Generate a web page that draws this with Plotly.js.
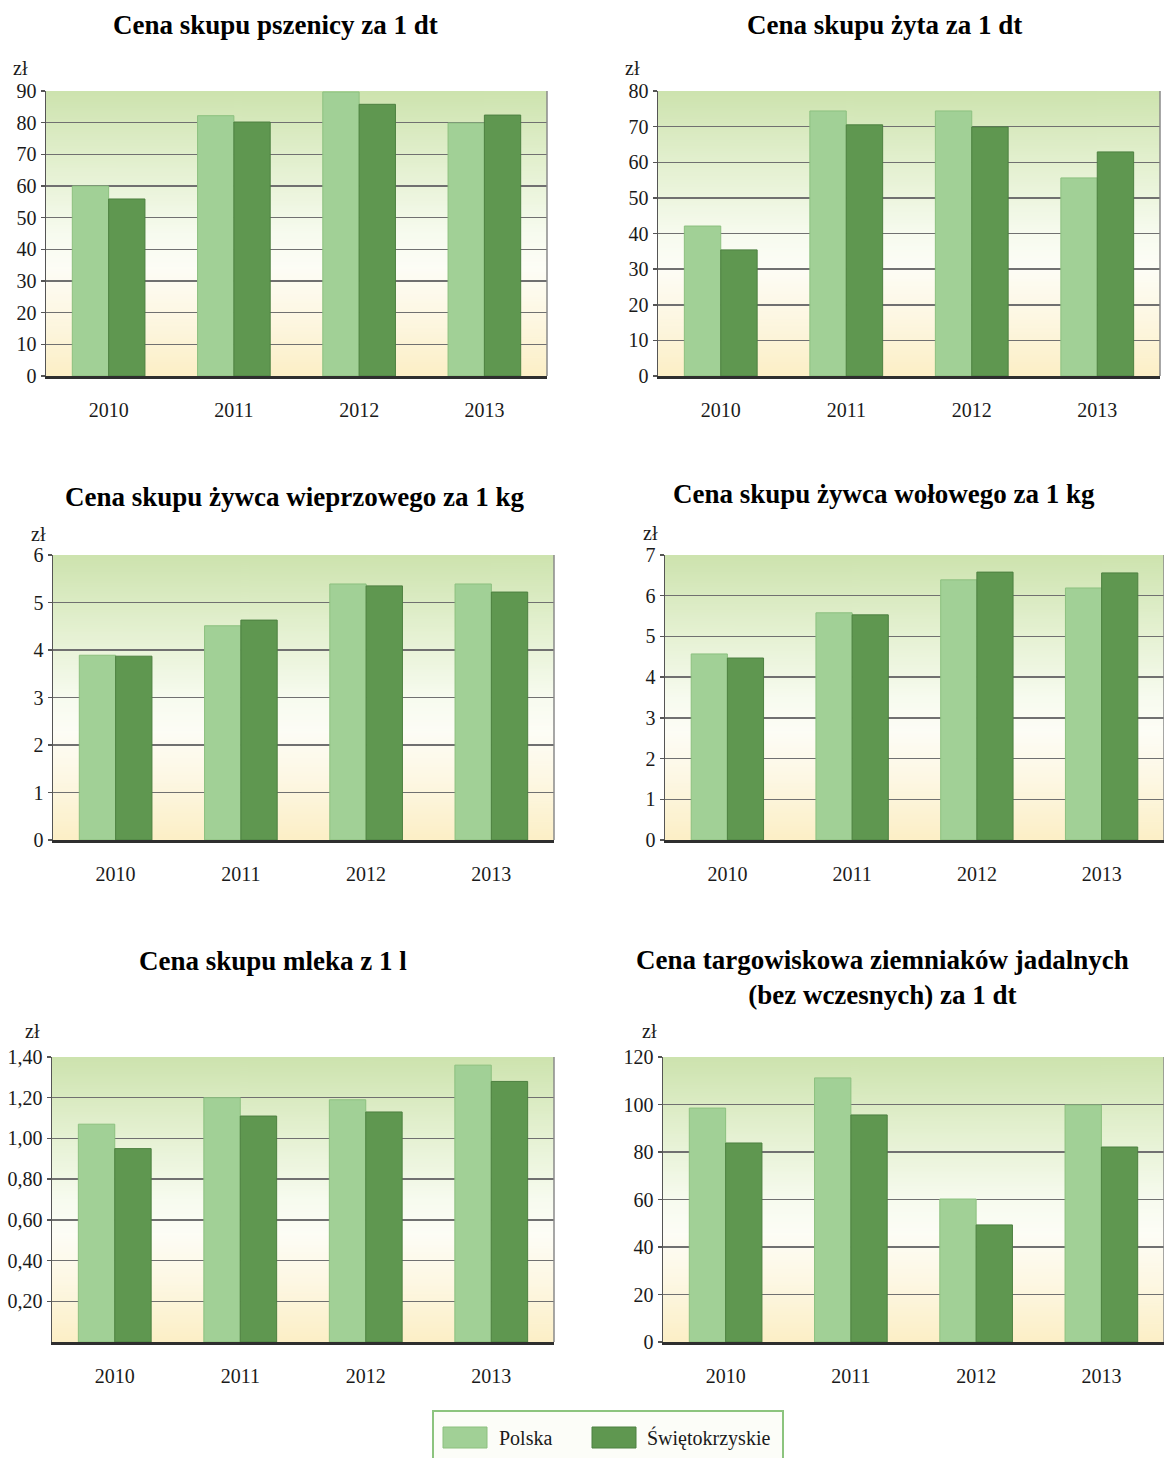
<!DOCTYPE html>
<html><head><meta charset="utf-8">
<script src="https://cdn.plot.ly/plotly-3.0.1.min.js"></script>
<style>html,body{margin:0;padding:0;background:#fff}#chart{width:1164px;height:1458px}</style>
</head><body><div id="chart"></div>
<script>
// ---- data ----
const years = ['2010', '2011', '2012', '2013'];
const seriesNames = ['Polska', 'Świętokrzyskie'];
const titles = [
  'Cena skupu pszenicy za 1 dt',
  'Cena skupu żyta za 1 dt',
  'Cena skupu żywca wieprzowego za 1 kg',
  'Cena skupu żywca wołowego za 1 kg',
  'Cena skupu mleka z 1 l',
  'Cena targowiskowa ziemniaków jadalnych<br>(bez wczesnych) za 1 dt'
];
const wheatPL = [60.0, 82.2, 89.7, 79.9];
const wheatSW = [55.9, 80.2, 85.8, 82.4];
const ryePL = [42.1, 74.4, 74.4, 55.6];
const ryeSW = [35.4, 70.5, 69.9, 62.9];
const porkPL = [3.89, 4.51, 5.39, 5.39];
const porkSW = [3.87, 4.63, 5.35, 5.22];
const beefPL = [4.57, 5.58, 6.39, 6.19];
const beefSW = [4.47, 5.53, 6.58, 6.56];
const milkPL = [1.07, 1.20, 1.19, 1.36];
const milkSW = [0.95, 1.11, 1.13, 1.28];
const potatoPL = [98.5, 111.2, 60.2, 99.8];
const potatoSW = [83.8, 95.6, 49.3, 82.1];
const wheatTicks = [0, 10, 20, 30, 40, 50, 60, 70, 80, 90];
const ryeTicks = [0, 10, 20, 30, 40, 50, 60, 70, 80];
const porkTicks = [0, 1, 2, 3, 4, 5, 6];
const beefTicks = [0, 1, 2, 3, 4, 5, 6, 7];
const milkTicks = [0.2, 0.4, 0.6, 0.8, 1.0, 1.2, 1.4];
const milkTickText = ['0,20', '0,40', '0,60', '0,80', '1,00', '1,20', '1,40'];
const potatoTicks = [0, 20, 40, 60, 80, 100, 120];
const unitLabel = 'zł';

// ---- styles ----
const colPL = '#a1d096', colSW = '#5f9750';
const linePL = '#8cc07f', lineSW = '#4d8040';
const W = 1164, H = 1458;
const serif = 'Liberation Serif';

const panels = [
  {pl: wheatPL, sw: wheatSW, ticks: wheatTicks, text: null, max: 90, box: [46, 547, 91, 376], title: [275, 25], unit: [20, 68]},
  {pl: ryePL, sw: ryeSW, ticks: ryeTicks, text: null, max: 80, box: [658, 1160, 91, 376], title: [884, 25], unit: [632, 68]},
  {pl: porkPL, sw: porkSW, ticks: porkTicks, text: null, max: 6, box: [53, 554, 555, 840], title: [294, 497], unit: [38, 534]},
  {pl: beefPL, sw: beefSW, ticks: beefTicks, text: null, max: 7, box: [665, 1164, 555, 840], title: [884, 494], unit: [650, 533]},
  {pl: milkPL, sw: milkSW, ticks: milkTicks, text: milkTickText, max: 1.4, box: [52, 554, 1057, 1342], title: [273, 961], unit: [32, 1031]},
  {pl: potatoPL, sw: potatoSW, ticks: potatoTicks, text: null, max: 120, box: [663, 1164, 1057, 1342], title: [882, 977], unit: [649, 1031]}
];

function px(x) { return x / W; }
function py(y) { return 1 - y / H; }

// gradient background image
const cv = document.createElement('canvas');
cv.width = 4; cv.height = 300;
const ctx = cv.getContext('2d');
const g = ctx.createLinearGradient(0, 0, 0, 300);
g.addColorStop(0, '#cde3ae');
g.addColorStop(0.25, '#e3f0cf');
g.addColorStop(0.5, '#f7fbef');
g.addColorStop(0.62, '#fdfdf6');
g.addColorStop(0.8, '#fdf7e2');
g.addColorStop(1, '#fcefc6');
ctx.fillStyle = g; ctx.fillRect(0, 0, 4, 300);
const bgURL = cv.toDataURL('image/png');

const data = [];
const layout = {
  width: W, height: H,
  margin: {l: 0, r: 0, t: 0, b: 0},
  paper_bgcolor: '#ffffff',
  plot_bgcolor: 'rgba(0,0,0,0)',
  barmode: 'group', bargap: 0.42, bargroupgap: 0,
  showlegend: false,
  font: {family: serif, size: 19, color: '#1a1a1a'},
  annotations: [], shapes: [], images: []
};

panels.forEach((p, i) => {
  const n = i === 0 ? '' : String(i + 1);
  const xa = 'x' + n, ya = 'y' + n;
  data.push({type: 'bar', x: years, y: p.pl, name: seriesNames[0], xaxis: xa, yaxis: ya,
    marker: {color: colPL, line: {color: linePL, width: 1}}, hoverinfo: 'y'});
  data.push({type: 'bar', x: years, y: p.sw, name: seriesNames[1], xaxis: xa, yaxis: ya,
    marker: {color: colSW, line: {color: lineSW, width: 1}}, hoverinfo: 'y'});
  const [x0, x1, y0, y1] = p.box;
  layout['xaxis' + n] = {
    domain: [px(x0), px(x1)], anchor: ya, type: 'category',
    showgrid: false, showline: true, linecolor: '#2e2e2e', linewidth: 2.5,
    ticks: '', ticklabelstandoff: 14, tickfont: {family: serif, size: 20, color: '#1a1a1a'},
    fixedrange: true
  };
  layout['yaxis' + n] = {
    domain: [py(y1), py(y0)], anchor: xa, range: [0, p.max],
    tickvals: p.ticks, ticktext: p.text || p.ticks.map(String),
    showgrid: true, gridcolor: '#707070', gridwidth: 1.5,
    showline: true, linecolor: '#555555', linewidth: 1.5,
    ticks: 'outside', ticklen: 4, tickcolor: '#555555', tickwidth: 1.5,
    tickfont: {family: serif, size: 20, color: '#1a1a1a'},
    zeroline: false, fixedrange: true
  };
  layout.images.push({source: bgURL, xref: 'paper', yref: 'paper',
    x: px(x0), y: py(y0), sizex: px(x1) - px(x0), sizey: py(y0) - py(y1),
    xanchor: 'left', yanchor: 'top', sizing: 'stretch', layer: 'below'});
  layout.shapes.push({type: 'line', xref: 'paper', yref: 'paper', x0: px(x1), x1: px(x1), y0: py(y0), y1: py(y1),
    line: {color: '#8a8a8a', width: 1.5}});
  layout.annotations.push({text: '<b>' + titles[i] + '</b>', xref: 'paper', yref: 'paper',
    x: px(p.title[0]), y: py(p.title[1]), xanchor: 'center', yanchor: 'middle', showarrow: false,
    font: {family: serif, size: 27, color: '#000'}});
  layout.annotations.push({text: unitLabel, xref: 'paper', yref: 'paper',
    x: px(p.unit[0]), y: py(p.unit[1]), xanchor: 'center', yanchor: 'middle', showarrow: false,
    font: {family: serif, size: 20, color: '#1a1a1a'}});
});

// custom legend
layout.shapes.push({type: 'rect', xref: 'paper', yref: 'paper', x0: px(433), x1: px(783), y0: py(1411), y1: py(1462),
  line: {color: '#8cc47e', width: 2}, fillcolor: '#fcfdf8'});
layout.shapes.push({type: 'rect', xref: 'paper', yref: 'paper', x0: px(443), x1: px(487), y0: py(1427), y1: py(1448),
  line: {color: linePL, width: 1}, fillcolor: colPL});
layout.shapes.push({type: 'rect', xref: 'paper', yref: 'paper', x0: px(592), x1: px(636), y0: py(1427), y1: py(1448),
  line: {color: lineSW, width: 1}, fillcolor: colSW});
layout.annotations.push({text: seriesNames[0], xref: 'paper', yref: 'paper', x: px(497), y: py(1438),
  xanchor: 'left', yanchor: 'middle', showarrow: false, font: {family: serif, size: 20, color: '#1a1a1a'}});
layout.annotations.push({text: seriesNames[1], xref: 'paper', yref: 'paper', x: px(645), y: py(1438),
  xanchor: 'left', yanchor: 'middle', showarrow: false, font: {family: serif, size: 20, color: '#1a1a1a'}});

Plotly.newPlot('chart', data, layout, {displayModeBar: false, staticPlot: true});
</script></body></html>
